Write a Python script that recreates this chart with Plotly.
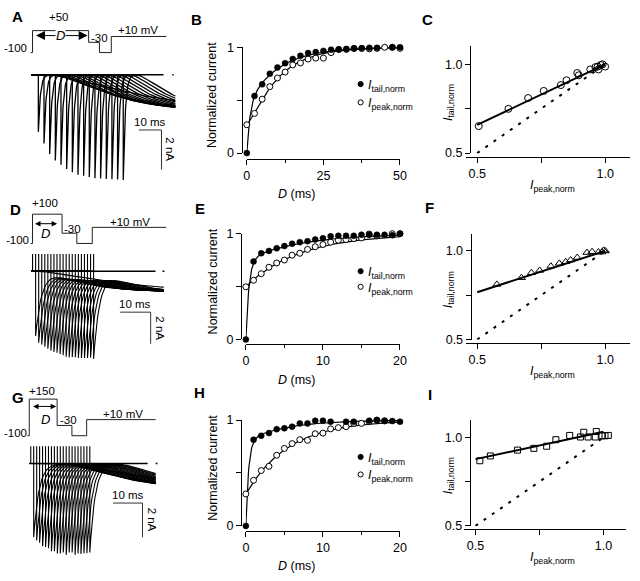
import numpy as np
import plotly.graph_objects as go

W, H = 640, 581
FONT = "Liberation Sans, Arial, Helvetica, sans-serif"

# ---------------- data ----------------
# B: prepulse +50 mV, D in ms
B_D = [0, 2.5, 5, 7.5, 10, 12.5, 15, 17.5, 20, 22.5, 25, 27.5, 30, 32.5, 35, 37.5, 40, 42.5, 45, 47.5, 50]
B_tail = [0, 0.54, 0.65, 0.75, 0.81, 0.85, 0.89, 0.92, 0.945, 0.955, 0.966, 0.978, 0.98, 0.985, 0.988,
          0.99, 0.995, 0.995, 1.01, 1.0, 1.0]
B_peak = [0.268, 0.375, 0.51, 0.628, 0.71, 0.766, 0.834, 0.852, 0.889, 0.898, 0.898, 0.95, 0.98, 0.98,
          0.99, 0.99, 0.985, 0.99, 1.0, 1.0, 0.99]
# E: prepulse +100 mV
E_D = [0, 1, 2, 3, 4, 5, 6, 7, 8, 9, 10, 11, 12, 13, 14, 15, 16, 17, 18, 19, 20]
E_tail = [0, 0.738, 0.815, 0.837, 0.862, 0.883, 0.905, 0.92, 0.929, 0.945, 0.957, 0.975, 0.98, 0.98,
          0.98, 0.99, 0.99, 0.99, 0.99, 0.985, 1.0]
E_peak = [0.498, 0.56, 0.622, 0.683, 0.723, 0.751, 0.797, 0.815, 0.852, 0.877, 0.898, 0.92, 0.938, 0.945,
          0.954, 0.96, 0.997, 0.98, 1.01, 1.0, 1.0]
# H: prepulse +150 mV
H_D = [0, 1, 2, 3, 4, 5, 6, 7, 8, 9, 10, 11, 12, 13, 14, 15, 16, 17, 18, 19, 20]
H_tail = [0, 0.815, 0.852, 0.877, 0.914, 0.923, 0.938, 0.969, 0.969, 0.994, 0.994, 0.985, 1.01, 0.985,
          0.985, 1.01, 0.994, 1.0, 0.991, 0.991, 0.985]
H_peak = [0.302, 0.431, 0.523, 0.563, 0.668, 0.732, 0.778, 0.815, 0.809, 0.871, 0.877, 0.917, 0.929, 0.938,
          0.969, 0.969, 0.985, 1.0, 0.994, 1.025, 1.015]

# fit parameters (double exponential for tail, exponential for peak)
B_tail_fit = dict(a=0.45, tf=1.0, ts=10.0)
B_peak_fit = dict(y0=0.27, tau=9.0, n=1.3)
E_tail_fit = dict(a=0.75, tf=0.4, ts=7.0)
E_peak_fit = dict(y0=0.5, tau=7.0, n=1.0)
H_tail_fit = dict(a=0.8, tf=0.35, ts=5.0)
H_peak_fit = dict(y0=0.3, tau=5.5, n=1.0)

# C, F, I: I_tail,norm vs I_peak,norm
C_peak = [0.506, 0.622, 0.699, 0.760, 0.827, 0.849, 0.891, 0.897, 0.942, 0.962, 0.971, 0.974, 0.983, 0.990, 1.0]
C_tail = [0.652, 0.749, 0.810, 0.850, 0.883, 0.910, 0.951, 0.938, 0.971, 0.984, 0.987, 0.971, 0.996, 1.0, 0.987]
F_peak = [0.577, 0.673, 0.712, 0.744, 0.788, 0.821, 0.846, 0.865, 0.891, 0.929, 0.949, 0.974, 0.987, 0.994, 1.001]
F_tail = [0.811, 0.849, 0.877, 0.890, 0.914, 0.930, 0.939, 0.949, 0.963, 0.991, 0.996, 0.994, 0.994, 1.004, 1.0]
I_peak = [0.517, 0.558, 0.664, 0.728, 0.778, 0.814, 0.868, 0.910, 0.923, 0.940, 0.968, 0.972, 0.994, 1.006, 1.019]
I_tail = [0.868, 0.895, 0.928, 0.938, 0.950, 0.987, 1.011, 1.002, 1.029, 1.002, 1.002, 1.033, 1.009, 1.009, 1.011]
C_fit = dict(slope=0.682, icpt=0.318)
F_fit = dict(slope=0.466, icpt=0.534)
I_fit = dict(slope=0.31, icpt=0.722)
UNITY = [0.5, 1.0]

# voltage protocols (schematic durations, mV)
A_proto_t = [-2, 0, 0, 57, 57, 68, 68, 80, 80, 136]
A_proto_v = [-100, -100, 50, 50, -30, -30, -100, -100, 10, 10]
D_proto_t = [-2, 0, 0, 30, 30, 45, 45, 60.7, 60.7, 135.7]
D_proto_v = [-100, -100, 100, 100, -30, -30, -100, -100, 10, 10]
G_proto_t = [-2, 0, 0, 28.3, 28.3, 43.3, 43.3, 58.3, 58.3, 128.3]
G_proto_v = [-100, -100, 150, 150, -30, -30, -100, -100, 10, 10]

# current traces: D values shown, tail amplitudes from the normalised tail data
A_trace_D = B_D[:17]
A_trace_f = B_tail[:17]

MID_XTICKS = {3: [0, 25, 50], 7: [0, 10, 20], 11: [0, 10, 20]}
MID_XMINOR = {3: [12.5, 37.5], 7: [5, 15], 11: [5, 15]}

# ---------------- helpers ----------------
def ref(n):
    return ('x' if n == 1 else f'x{n}', 'y' if n == 1 else f'y{n}')

def key(n):
    return ('xaxis' if n == 1 else f'xaxis{n}', 'yaxis' if n == 1 else f'yaxis{n}')

def lin(pa, va, pb, vb):
    k = (vb - va) / (pb - pa)
    return lambda p: va + (p - pa) * k

def tail_fit(t, a, tf, ts):
    return a * (1 - np.exp(-t / tf)) + (1 - a) * (1 - np.exp(-t / ts))

def peak_fit(t, y0, tau, n):
    return y0 + (1 - y0) * (1 - np.exp(-t / tau)) ** n

fig = go.Figure()
layout = dict(width=W, height=H, margin=dict(l=0, r=0, t=0, b=0), paper_bgcolor='white',
              plot_bgcolor='rgba(0,0,0,0)', showlegend=False,
              font=dict(family=FONT, size=12, color='black'))
annotations = []
shapes = []

def ann(px, py, text, size=12, **kw):
    d = dict(x=px / W, y=1 - py / H, xref='paper', yref='paper', text=text, showarrow=False,
             font=dict(size=size, family=FONT, color='black'), xanchor='center', yanchor='middle')
    d.update(kw)
    annotations.append(d)

def hidden_axes(n, xdom, xr, ydom, yr):
    kx, ky = key(n)
    rx, ry = ref(n)
    layout[kx] = dict(domain=[xdom[0] / W, xdom[1] / W], range=xr, visible=False, anchor=ry)
    layout[ky] = dict(domain=[1 - ydom[1] / H, 1 - ydom[0] / H], range=yr, visible=False, anchor=rx)

def free_axes(n, xdom, xr, ydom, yr, xline_y, yline_x, xt, xtt, yt, ytt, xminor=None):
    kx, ky = key(n)
    common = dict(showline=True, linecolor='black', linewidth=1, ticks='outside', ticklen=5,
                  tickwidth=1, tickcolor='black', showgrid=False, zeroline=False,
                  tickfont=dict(size=12.5, family=FONT, color='black'), tickmode='array', anchor='free')
    layout[kx] = dict(domain=[xdom[0] / W, xdom[1] / W], range=xr, position=1 - xline_y / H,
                      tickvals=xt, ticktext=xtt, **common)
    if xminor:
        layout[kx]['minor'] = dict(tickmode='array', tickvals=xminor, ticks='outside', ticklen=3,
                                   tickcolor='black', showgrid=False)
    layout[ky] = dict(domain=[1 - ydom[1] / H, 1 - ydom[0] / H], range=yr, position=yline_x / W,
                      tickvals=yt, ticktext=ytt, **common)

# ---------------- left column: protocols ----------------
PROTO = [
    dict(n=1, t=A_proto_t, v=A_proto_v, px0=30, pyv0=31.7, ydom=(0, 58), arrow=(2, 56, 16), asz=1.8),
    dict(n=5, t=D_proto_t, v=D_proto_v, px0=30, pyv0=227.3, ydom=(195, 251), arrow=(1, 25, 35), asz=1.1),
    dict(n=9, t=G_proto_t, v=G_proto_v, px0=26.7, pyv0=424.3, ydom=(385, 447), arrow=(2.3, 27.3, 100), asz=1.1),
]
MV_PX = 0.15
for p in PROTO:
    n = p['n']
    hidden_axes(n, (0, 185), [0 - p['px0'], 185 - p['px0']], p['ydom'],
                [(p['pyv0'] - p['ydom'][1]) / MV_PX, (p['pyv0'] - p['ydom'][0]) / MV_PX])
    rx, ry = ref(n)
    fig.add_trace(go.Scatter(x=p['t'], y=p['v'], mode='lines', xaxis=rx, yaxis=ry,
                             line=dict(color='#222', width=1), hoverinfo='skip'))
    x0, x1, yv = p['arrow']
    annotations.append(dict(x=x1, y=yv, ax=x0, ay=yv, xref=rx, yref=ry, axref=rx, ayref=ry,
                            text='', showarrow=True, arrowhead=2, arrowside='end+start',
                            arrowsize=p['asz'], arrowwidth=1, arrowcolor='black',
                            standoff=0, startstandoff=0))

# ---------------- left column: current traces ----------------
TRACES = [
    dict(n=2, D=A_trace_D, f=A_trace_f, imax=5.35, tau_tail=0.9, cap=0.0, bmax=1.8, tau_slow=30,
         tau_fast=12, delay=5, t_end=63.5, offset=0.5, pt0=29, ppms=2.3, pi0=69.3, ppna=20.3,
         ydom=(60, 190), bar=(138, 126), zero_end=58.3, dot_t=62.2, lw=1.3),
    dict(n=6, D=E_D, f=E_tail, imax=5.55, tau_tail=2.0, cap=3.0, bmax=1.3, tau_slow=20,
         tau_fast=8, delay=0, t_end=43.5, offset=0.5, pt0=28.5, ppms=3.1, pi0=270.7, ppna=16.2,
         ydom=(253, 375), bar=(119, 312.7), zero_end=40.8, dot_t=43.1, lw=1.1),
    dict(n=10, D=H_D, f=H_tail, imax=5.3, tau_tail=1.8, cap=3.0, bmax=1.6, tau_slow=25,
         tau_fast=15, delay=8, t_end=42.8, offset=0.5, pt0=26.7, ppms=3.0, pi0=467.7, ppna=17.5,
         ydom=(450, 575), bar=(111.7, 508.3), zero_end=40.1, dot_t=42.8, lw=1.1),
]
for p in TRACES:
    n = p['n']
    xr = [(25 - p['pt0']) / p['ppms'], (185 - p['pt0']) / p['ppms']]
    yr = [-(p['ydom'][1] - p['pi0']) / p['ppna'], (p['pi0'] - p['ydom'][0]) / p['ppna']]
    hidden_axes(n, (25, 185), xr, p['ydom'], yr)
    rx, ry = ref(n)
    xs, ys = [], []
    for D, f in zip(p['D'], p['f']):
        ts = p['offset'] + D
        tt = np.unique(np.concatenate([np.linspace(0, 6 * p['tau_tail'], 40),
                                       np.linspace(6 * p['tau_tail'], p['t_end'] - ts, 60)]))
        tau_i = p['tau_slow'] * (1 - f) + p['tau_fast'] * f
        sus = p['bmax'] * (1 - np.exp(-np.clip(tt - p['delay'], 0, None) / tau_i)) ** 2
        cur = -p['imax'] * f * np.exp(-tt / p['tau_tail']) - sus
        xs += [0, ts, ts] + list(ts + tt) + [None]
        ys += [0, 0, p['cap']] + list(cur) + [None]
    fig.add_trace(go.Scatter(x=xs, y=ys, mode='lines', xaxis=rx, yaxis=ry,
                             line=dict(color='black', width=p['lw']), hoverinfo='skip'))
    # zero line and end dot
    fig.add_trace(go.Scatter(x=[0, p['zero_end'], None, p['dot_t'], p['dot_t'] + 0.6],
                             y=[0, 0, None, 0, 0], mode='lines', xaxis=rx, yaxis=ry,
                             line=dict(color='black', width=1.5), hoverinfo='skip'))
    # scale bar 10 ms / 2 nA
    tb = (p['bar'][0] - p['pt0']) / p['ppms']
    ib = -(p['bar'][1] - p['pi0']) / p['ppna']
    fig.add_trace(go.Scatter(x=[tb, tb + 10, tb + 10], y=[ib, ib, ib - 2], mode='lines',
                             xaxis=rx, yaxis=ry, line=dict(color='#333', width=1), hoverinfo='skip'))
    annotations.append(dict(x=tb + 5, y=ib, xref=rx, yref=ry, text='10 ms', showarrow=False,
                            yanchor='bottom', xanchor='center', yshift=0,
                            font=dict(size=11.5, family=FONT, color='black')))
    annotations.append(dict(x=tb + 10, y=ib - 1, xref=rx, yref=ry, text='2 nA', showarrow=False,
                            textangle=90, xanchor='left', yanchor='middle', xshift=1,
                            font=dict(size=11.5, family=FONT, color='black')))

# ---------------- middle column ----------------
MID = [
    dict(n=3, D=B_D, tail=B_tail, peak=B_peak, tf=B_tail_fit, pf=B_peak_fit, xmax=50,
         xpx=(247.7, 403.3), ypx=(41.3, 149.7), xline=155.3, yline=242.3, leg=(79, 97.7)),
    dict(n=7, D=E_D, tail=E_tail, peak=E_peak, tf=E_tail_fit, pf=E_peak_fit, xmax=20,
         xpx=(246.7, 403.3), ypx=(232.3, 340.7), xline=345.7, yline=241.7, leg=(270.7, 286.7)),
    dict(n=11, D=H_D, tail=H_tail, peak=H_peak, tf=H_tail_fit, pf=H_peak_fit, xmax=20,
         xpx=(246.7, 403.3), ypx=(423.3, 531.7), xline=536.7, yline=241.7, leg=(461, 479)),
]
for p in MID:
    n = p['n']
    xt = MID_XTICKS[n]
    free_axes(n, p['xpx'], [0, p['xmax']], p['ypx'], [0, 1], p['xline'], p['yline'],
              xt, [str(v) for v in xt], [0, 0.5, 1], ['0', '', '1'], MID_XMINOR[n])
    rx, ry = ref(n)
    tt = np.linspace(0, p['xmax'], 300)
    fig.add_trace(go.Scatter(x=tt, y=tail_fit(tt, **p['tf']), mode='lines', xaxis=rx, yaxis=ry,
                             line=dict(color='black', width=1.2), hoverinfo='skip'))
    fig.add_trace(go.Scatter(x=tt, y=peak_fit(tt, **p['pf']), mode='lines', xaxis=rx, yaxis=ry,
                             line=dict(color='black', width=1.2), hoverinfo='skip'))
    fig.add_trace(go.Scatter(x=p['D'], y=p['peak'], mode='markers', xaxis=rx, yaxis=ry, cliponaxis=False,
                             marker=dict(symbol='circle', size=6, color='white',
                                         line=dict(color='black', width=1))))
    fig.add_trace(go.Scatter(x=p['D'], y=p['tail'], mode='markers', xaxis=rx, yaxis=ry, cliponaxis=False,
                             marker=dict(symbol='circle', size=6, color='black',
                                         line=dict(color='black', width=0.5))))
    # legend
    for yy, fill, lab in [(p['leg'][0], 'black', 'tail,norm'), (p['leg'][1], 'white', 'peak,norm')]:
        shapes.append(dict(type='circle', xref='paper', yref='paper',
                           x0=(363.3 - 2.6) / W, x1=(363.3 + 2.6) / W,
                           y0=1 - (yy + 2.6) / H, y1=1 - (yy - 2.6) / H,
                           line=dict(color='black', width=1), fillcolor=fill))
        ann(369, yy + 2, f'<i>I</i><sub>{lab}</sub>', 12.5, xanchor='left')
    # axis titles
    ymid = (p['ypx'][0] + p['ypx'][1]) / 2 - 5
    ann(213, ymid, 'Normalized current', 12.5, textangle=-90)
    ann(298.3, p['xline'] + 36.5, '<i>D</i> (ms)', 12.5)

# ---------------- right column ----------------
RIGHT = [
    dict(n=4, x=C_peak, y=C_tail, fit=C_fit, sym='circle-open', size=7,
         xdom=(470, 637), xmap=(481.7, 611.7), ydom=(40, 150), ymap=(58.7, 149.7),
         xline=153.7, yline=474.3),
    dict(n=8, x=F_peak, y=F_tail, fit=F_fit, sym='triangle-up-open', size=7,
         xdom=(470, 636.7), xmap=(481.7, 611.7), ydom=(232.7, 341), ymap=(250, 340.7),
         xline=344, yline=475),
    dict(n=12, x=I_peak, y=I_tail, fit=I_fit, sym='square-open', size=6,
         xdom=(468, 633), xmap=(480, 610), ydom=(422.7, 532), ymap=(441, 531.7),
         xline=535, yline=474),
]
for p in RIGHT:
    n = p['n']
    fx = lin(p['xmap'][0], 0.5, p['xmap'][1], 1.0)
    fy = lin(p['ymap'][0], 1.0, p['ymap'][1], 0.5)
    free_axes(n, p['xdom'], [fx(p['xdom'][0]), fx(p['xdom'][1])], p['ydom'],
              [fy(p['ydom'][1]), fy(p['ydom'][0])], p['xline'], p['yline'],
              [0.5, 0.75, 1.0], ['0.5', '', '1.0'], [0.5, 0.75, 1.0], ['0.5', '', '1.0'])
    rx, ry = ref(n)
    fig.add_trace(go.Scatter(x=UNITY, y=UNITY, mode='lines', xaxis=rx, yaxis=ry,
                             line=dict(color='black', width=2, dash='3px,7px'), hoverinfo='skip'))
    fxx = np.array([0.5, 1.0])
    fig.add_trace(go.Scatter(x=fxx, y=p['fit']['icpt'] + p['fit']['slope'] * fxx, mode='lines',
                             xaxis=rx, yaxis=ry, line=dict(color='black', width=2), hoverinfo='skip'))
    fig.add_trace(go.Scatter(x=p['x'], y=p['y'], mode='markers', xaxis=rx, yaxis=ry, cliponaxis=False,
                             marker=dict(symbol=p['sym'], size=p['size'], color='black',
                                         line=dict(color='black', width=1))))
    ymid = (p['ydom'][0] + p['ydom'][1]) / 2 + 3
    ann(452.5, ymid, '<i>I</i><sub>tail,norm</sub>', 12.5, textangle=-90)
    ann(558.3, p['xline'] + 30, '<i>I</i><sub>peak,norm</sub>', 12.5)

# ---------------- text labels ----------------
for px, py, t in [(15, 10, 'A'), (196.7, 13.3, 'B'), (431.7, 13.3, 'C'),
                  (13, 207, 'D'), (200, 206.7, 'E'), (433.3, 205, 'F'),
                  (15, 400, 'G'), (200, 395, 'H'), (433.3, 396.7, 'I')]:
    ann(px, py, f'<b>{t}</b>', 15)

PROTO_LABELS = [
    (57, 10, '+50'), (13, 42, '-100'), (97.7, 31.5, '-30'), (137.3, 23.7, '+10 mV'),
    (42.3, 200.7, '+100'), (14.7, 238.7, '-100'), (70.8, 227.3, '-30'), (129, 220, '+10 mV'),
    (40, 393, '+150'), (12.8, 436.3, '-100'), (66.7, 422.7, '-30'), (121.7, 416.7, '+10 mV'),
]
for px, py, t in PROTO_LABELS:
    ann(px, py, t, 11.5)
ann(58, 29.3, '<i>D</i>', 13, bgcolor='white', borderpad=0)
ann(43.3, 231.7, '<i>D</i>', 13)
ann(43.3, 422.7, '<i>D</i>', 13)

layout['annotations'] = annotations
layout['shapes'] = shapes
fig.update_layout(**layout)
fig.write_html("out.html", config={'displayModeBar': False},
               post_script="document.body.style.margin='0';document.body.style.padding='0';"
                           "document.body.style.overflow='hidden';"
                           "document.documentElement.style.overflow='hidden';")
